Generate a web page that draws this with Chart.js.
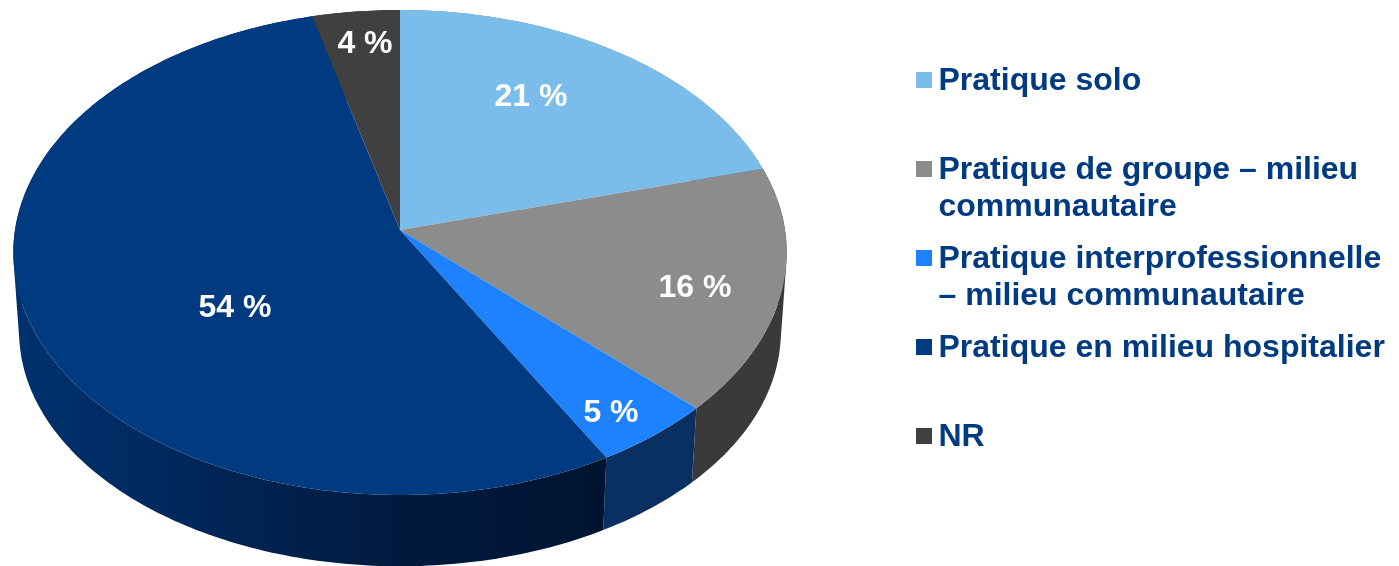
<!DOCTYPE html>
<html>
<head>
<meta charset="utf-8">
<title>Pratique</title>
<script src="https://cdn.jsdelivr.net/npm/chart.js@4/dist/chart.umd.min.js"></script>
<style>
  html, body { margin: 0; padding: 0; background: #fff; overflow: hidden; }
  #wrap { position: relative; width: 1399px; height: 566px; }
</style>
</head>
<body>
<div id="wrap"><canvas id="pieChart"></canvas></div>
<script>
const categories = [
  "Pratique solo",
  "Pratique de groupe – milieu communautaire",
  "Pratique interprofessionnelle – milieu communautaire",
  "Pratique en milieu hospitalier",
  "NR",
];
// estimated from the slice edges, each one rounds to its printed label
const shares = [20.8, 16.4, 4.6, 54.2, 4];
const sliceLabels = ["21 %", "16 %", "5 %", "54 %", "4 %"];
const legendLines = [
  ["Pratique solo"],
  ["Pratique de groupe – milieu", "communautaire"],
  ["Pratique interprofessionnelle", "– milieu communautaire"],
  ["Pratique en milieu hospitalier"],
  ["NR"],
];
const topColors = ["#7bbdea", "#8c8c8c", "#1e82ff", "#003a80", "#404040"];
const sideColors = ["#4f7c9a", "#3a3a3a", "#0a3062", "#00306b", "#2a2a2a"];

// perspective of the tilted disc, in canvas pixels
const view = { cx: 400, cy: 230, rx: 385, ry: 240.4, k: 0.0928, depth: 80, shrinkX: 0.985, shrinkY: 0.967 };
const labelSpots = [[531, 97], [695, 288], [611, 413], [235, 308], [365, 44]];
const legendBox = { x: 916, textX: 938.5, firstY: 81, pitch: 89, lineGap: 37, size: 16 };
const textColor = "#003a80";
const boldFont = 'bold 32px "Liberation Sans", Arial, sans-serif';

// angle comes from the arc element, low = true for the underside
function project(angle, low) {
  const px = Math.cos(angle);
  const py = Math.sin(angle);
  const d = 1 - view.k * py;
  return {
    x: view.cx + (view.rx * px * (low ? view.shrinkX : 1)) / d,
    y: view.cy + (view.ry * py * (low ? view.shrinkY : 1)) / d + (low ? view.depth : 0),
  };
}

function rimPoints(start, end, low) {
  const pts = [];
  const steps = Math.max(8, Math.ceil((end - start) * 60));
  for (let i = 0; i <= steps; i++) {
    pts.push(project(start + ((end - start) * i) / steps, low));
  }
  return pts;
}

function addPolygon(ctx, pts) {
  // same winding for every polygon, otherwise overlaps cancel out in one path
  let area = 0;
  pts.forEach((p, i) => {
    const q = pts[(i + 1) % pts.length];
    area += p.x * q.y - q.x * p.y;
  });
  const ordered = area < 0 ? pts.slice().reverse() : pts;
  ordered.forEach((p, i) => (i ? ctx.lineTo(p.x, p.y) : ctx.moveTo(p.x, p.y)));
  ctx.closePath();
}

function hospitalGradient(ctx) {
  const g = ctx.createLinearGradient(13, 0, 610, 0);
  g.addColorStop(0, "#00326f");
  g.addColorStop(0.2, "#002b62");
  g.addColorStop(0.35, "#002555");
  g.addColorStop(0.65, "#001a3e");
  g.addColorStop(1, "#001431");
  return g;
}

const pie3d = {
  id: "pie3d",
  beforeDatasetDraw(chart) {
    const ctx = chart.ctx;
    const arcs = chart.getDatasetMeta(0).data;
    ctx.save();
    // sides first, quads in one path so the silhouette stays closed without seams
    arcs.forEach((arc, i) => {
      const top = rimPoints(arc.startAngle, arc.endAngle, false);
      const low = rimPoints(arc.startAngle, arc.endAngle, true);
      ctx.beginPath();
      for (let s = 0; s < top.length - 1; s++) {
        addPolygon(ctx, [top[s], top[s + 1], low[s + 1], low[s]]);
      }
      ctx.fillStyle = i === 3 ? hospitalGradient(ctx) : sideColors[i];
      ctx.fill();
    });
    arcs.forEach((arc, i) => {
      const pts = rimPoints(arc.startAngle, arc.endAngle, false);
      pts.unshift({ x: view.cx, y: view.cy });
      ctx.beginPath();
      addPolygon(ctx, pts);
      ctx.fillStyle = topColors[i];
      ctx.fill();
    });
    ctx.restore();
    return false;
  },
  afterDraw(chart) {
    const ctx = chart.ctx;
    ctx.save();
    ctx.font = boldFont;
    ctx.textBaseline = "middle";
    ctx.textAlign = "center";
    ctx.fillStyle = "#fff";
    sliceLabels.forEach((text, i) => {
      ctx.fillText(text, labelSpots[i][0], labelSpots[i][1]);
    });
    ctx.textAlign = "left";
    legendLines.forEach((lines, i) => {
      const y = legendBox.firstY + i * legendBox.pitch;
      ctx.fillStyle = topColors[i];
      ctx.fillRect(legendBox.x, y - 1 - legendBox.size / 2, legendBox.size, legendBox.size);
      ctx.fillStyle = textColor;
      lines.forEach((line, j) => {
        ctx.fillText(line, legendBox.textX, y + j * legendBox.lineGap);
      });
    });
    ctx.restore();
  },
};

new Chart(document.getElementById("pieChart"), {
  type: "pie",
  data: {
    labels: categories,
    datasets: [{ data: shares, backgroundColor: topColors, borderWidth: 0 }],
  },
  options: {
    responsive: true,
    maintainAspectRatio: false,
    animation: false,
    plugins: {
      legend: { display: false },
      tooltip: { enabled: false },
    },
  },
  plugins: [pie3d],
});
</script>
</body>
</html>
